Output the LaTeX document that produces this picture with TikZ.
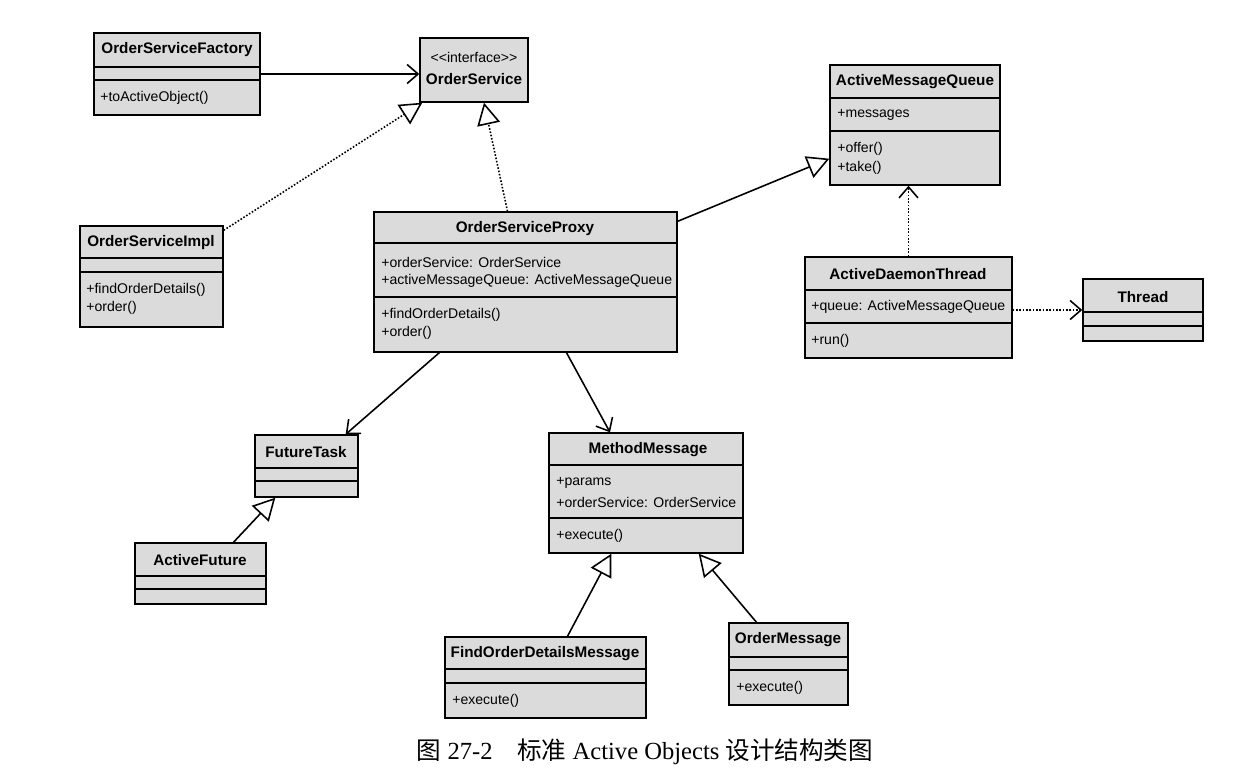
\documentclass[tikz,border=0pt]{standalone}
\usepackage{fontspec}
\setmainfont{Liberation Serif}
\setsansfont{Liberation Sans}
\newfontfamily\cjk{Noto Sans CJK SC}
\usetikzlibrary{arrows.meta,fit,calc}
\tikzset{
  cls/.style={draw=black,fill=black!14,line width=0.8pt,inner sep=0pt},
  cname/.style={font=\sffamily\bfseries\fontsize{8.7}{10}\selectfont,inner sep=0pt},
  member/.style={font=\sffamily\fontsize{8}{9}\selectfont,anchor=west,inner sep=0pt},
  sep/.style={line width=0.8pt},
  assoc/.style={line width=0.9pt,-{Straight Barb[length=2.2mm,width=3.8mm]}},
  inherit/.style={line width=0.9pt,-{Triangle[open,length=4.4mm,width=4.6mm]}},
  realize/.style={inherit,densely dotted},
  depend/.style={assoc,densely dotted}
}
\begin{document}
\begin{tikzpicture}[x=0.02cm,y=-0.02cm]
\useasboundingbox (0,0) rectangle (1252,768);

% OrderServiceFactory
\node[cls,fit={(94,33) (260,115)}] (factory) {};
\draw[sep] (94,67) -- (260,67) (94,80) -- (260,80);
\node[cname] (factoryname) at (177,50) {OrderServiceFactory};
\node[member] (factoryop) at (100,98) {+toActiveObject()};

% OrderService
\node[cls,fit={(420,38) (528,102)}] (iface) {};
\node[member,anchor=center] (ifacestereo) at (474,57) {<{}<interface>{}>};
\node[cname] (ifacename) at (474,79) {OrderService};

% OrderServiceImpl
\node[cls,fit={(80,226) (223,327)}] (impl) {};
\draw[sep] (80,258) -- (223,258) (80,272) -- (223,272);
\node[cname] (implname) at (151,243) {OrderServiceImpl};
\node[member] (implop1) at (86,290) {+findOrderDetails()};
\node[member] (implop2) at (86,308) {+order()};

% OrderServiceProxy
\node[cls,fit={(374,212) (677,352)}] (proxy) {};
\draw[sep] (374,243) -- (677,243) (374,297) -- (677,297);
\node[cname] (proxyname) at (525,229) {OrderServiceProxy};
\node[member] (proxyattr1) at (381,262) {+orderService: OrderService};
\node[member] (proxyattr2) at (381,281) {+activeMessageQueue: ActiveMessageQueue};
\node[member] (proxyop1) at (381,315) {+findOrderDetails()};
\node[member] (proxyop2) at (381,333) {+order()};

% ActiveMessageQueue
\node[cls,fit={(830,65) (1000,185)}] (amq) {};
\draw[sep] (830,98) -- (1000,98) (830,131) -- (1000,131);
\node[cname] (amqname) at (915,82) {ActiveMessageQueue};
\node[member] (amqattr) at (837,115) {+messages};
\node[member] (amqop1) at (837,149) {+offer()};
\node[member] (amqop2) at (837,168) {+take()};

% ActiveDaemonThread
\node[cls,fit={(805,257) (1012,358)}] (adt) {};
\draw[sep] (805,290) -- (1012,290) (805,323) -- (1012,323);
\node[cname] (adtname) at (908,274) {ActiveDaemonThread};
\node[member] (adtattr) at (811,307) {+queue: ActiveMessageQueue};
\node[member] (adtop) at (811,341) {+run()};

% Thread
\node[cls,fit={(1083,279) (1203,341)}] (thread) {};
\draw[sep] (1083,312) -- (1203,312) (1083,326) -- (1203,326);
\node[cname] (threadname) at (1143,297) {Thread};

% FutureTask
\node[cls,fit={(255,435) (358,497)}] (ftask) {};
\draw[sep] (255,468) -- (358,468) (255,481) -- (358,481);
\node[cname] (ftaskname) at (306,452) {FutureTask};

% ActiveFuture
\node[cls,fit={(135,543) (266,604)}] (afut) {};
\draw[sep] (135,576) -- (266,576) (135,589) -- (266,589);
\node[cname] (afutname) at (200,560) {ActiveFuture};

% MethodMessage
\node[cls,fit={(549,433) (743,553)}] (mmsg) {};
\draw[sep] (549,465) -- (743,465) (549,518) -- (743,518);
\node[cname] (mmsgname) at (648,450) {MethodMessage};
\node[member] (mmsgattr1) at (556,483) {+params};
\node[member] (mmsgattr2) at (556,502) {+orderService: OrderService};
\node[member] (mmsgop) at (556,536) {+execute()};

% FindOrderDetailsMessage
\node[cls,fit={(445,637) (646,718)}] (fodm) {};
\draw[sep] (445,669) -- (646,669) (445,683) -- (646,683);
\node[cname] (fodmname) at (545,654) {FindOrderDetailsMessage};
\node[member] (fodmop) at (452,701) {+execute()};

% OrderMessage
\node[cls,fit={(729,623) (848,705)}] (omsg) {};
\draw[sep] (729,657) -- (848,657) (729,670) -- (848,670);
\node[cname] (omsgname) at (788,640) {OrderMessage};
\node[member] (omsgop) at (736,688) {+execute()};

% connectors
\draw[assoc] (factory.east) -- (factory.east -| iface.west);
\draw[realize] ($(impl.north east)+(0,5)$) -- ($(iface.south west)+(3,0)$);
\draw[realize] ($(proxy.north)+(-18,0)$) -- ($(iface.south)+(10,0)$);
\draw[inherit] ($(proxy.north east)+(0,10)$) -- ($(amq.south west)+(0,-27)$);
\draw[depend] (adt.north) -- (adt.north |- amq.south);
\draw[depend] (thread.west -| adt.east) -- (thread.west);
\draw[assoc] ($(proxy.south west)+(66,0)$) -- ($(ftask.north east)+(-13,0)$);
\draw[assoc] ($(proxy.south)+(41,0)$) -- ($(mmsg.north)+(-36,0)$);
\draw[inherit] ($(afut.north)+(33,0)$) -- ($(ftask.south west)+(21,0)$);
\draw[inherit] ($(fodm.north)+(22,0)$) -- ($(mmsg.south west)+(63,0)$);
\draw[inherit] ($(omsg.north)+(-32,0)$) -- ($(mmsg.south east)+(-45,0)$);

% caption
\node (caption) at (645,752) {\fontsize{14}{16}\selectfont{\cjk 图} 27-2\quad{\cjk 标准} Active Objects {\cjk 设计结构类图}};
\end{tikzpicture}
\end{document}
